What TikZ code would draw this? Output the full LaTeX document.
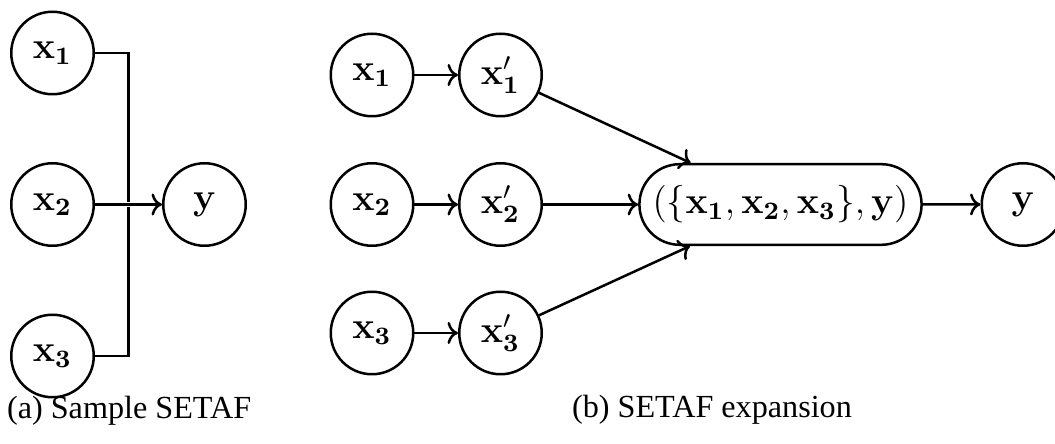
\documentclass[tikz,border=0pt]{standalone}
\usepackage{amsmath,amssymb}
\usepackage[no-math]{fontspec}
\setmainfont{Liberation Serif}
\usetikzlibrary{calc,shapes.misc,arrows.meta}

\begin{document}
\begin{tikzpicture}[x=0.32pt, y=-0.32pt]
    %
    \useasboundingbox (0,0) rectangle (1055,444);

    %
    \tikzset{arg/.style={circle, draw, thick, minimum size=26.4pt, inner sep=0pt, font=\fontsize{12}{14}\selectfont},
             setbox/.style={rounded rectangle, draw, thick, minimum width=92.3pt, minimum height=25.8pt, inner sep=1pt, font=\fontsize{12}{14}\selectfont},
             link/.style={thick},
             halo/.style={preaction={draw=white, -, line width=1.8pt, shorten <=9pt, shorten >=9pt}},
             caption/.style={anchor=west, font=\fontsize{10.3}{12}\selectfont}}

    %
    \node[arg] (a1) at (52.5,53) {$\mathbf{x_1}$};
    \node[arg] (a2) at (52.5,204.5) {$\mathbf{x_2}$};
    \node[arg] (a3) at (52.5,356) {$\mathbf{x_3}$};
    \node[arg] (ay) at (204.5,204.5) {$\mathbf{y}$};
    \coordinate (aj) at ($(a2)!.5!(ay)$);

    \draw[link] (a1) -| (aj);
    \draw[link] (a3) -| (aj);
    \draw[link, ->, halo] (a2) -- (ay);

    %
    \node[setbox] (ex) at (780.5,204.5) {$(\{\mathbf{x_1},\mathbf{x_2},\mathbf{x_3}\},\mathbf{y})$};
    \node[arg] (by) at (1023,204.5) {$\mathbf{y}$};

    \foreach \i/\yy in {1/75, 2/204.5, 3/333} {
        \node[arg] (b\i) at (372,\yy) {$\mathbf{x_{\i}}$};
        \node[arg] (c\i) at (500.5,\yy) {$\mathbf{x}'_{\mathbf{\i}}$};
        \draw[link, ->] (b\i) -- (c\i);
        \draw[link, ->] (c\i) -- (ex);
    }
    \draw[link, ->] (ex) -- (by);

    %
    \node[caption] (capa) at (-4,411) {(a) Sample SETAF};
    \node[caption] (capb) at (561,410) {(b) SETAF expansion};

\end{tikzpicture}
\end{document}
